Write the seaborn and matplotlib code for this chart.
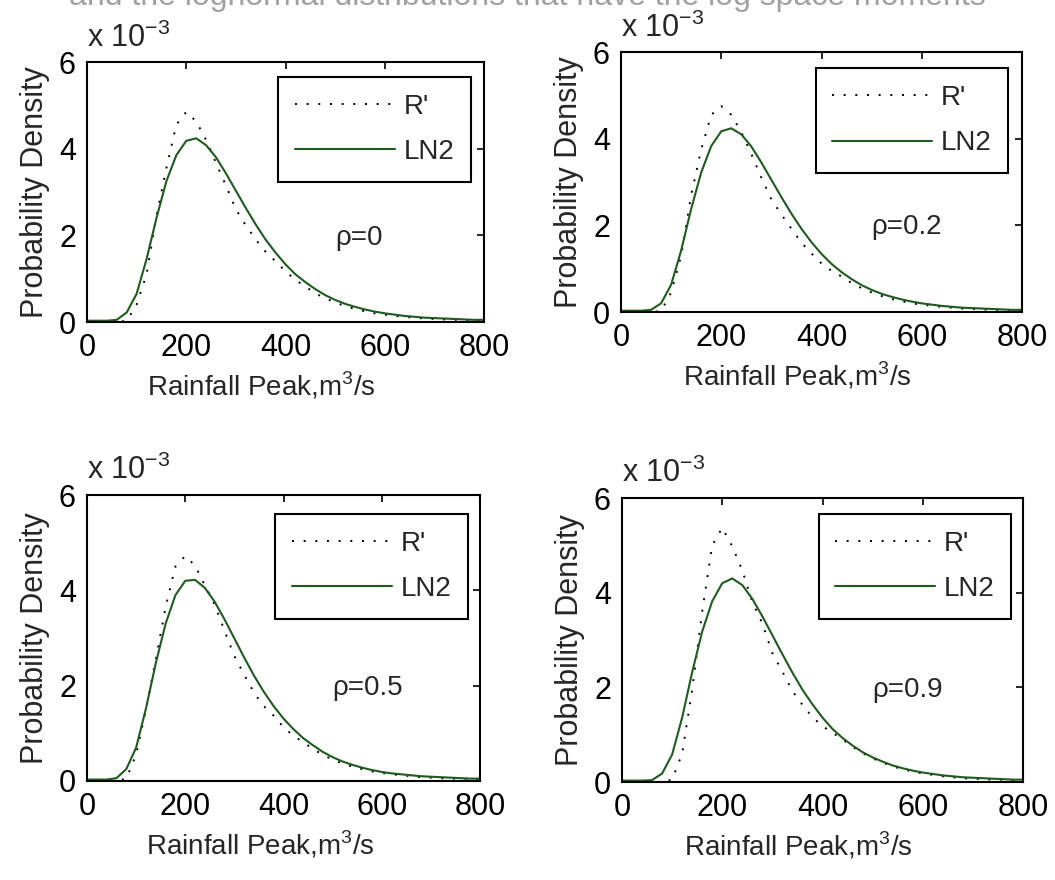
import matplotlib
matplotlib.use("Agg")
import matplotlib.pyplot as plt
import seaborn as sns

sns.set_style("white")
plt.rcParams['font.family'] = ['Liberation Sans', 'DejaVu Sans']

# ---- data (densities in units of 1e-3) ----
x_vals = [0, 20, 40, 60, 80, 100, 120, 140, 160, 180, 200, 220, 240, 260, 280, 300,
          320, 340, 360, 380, 400, 420, 440, 460, 480, 500, 520, 540, 560, 580, 600,
          620, 640, 660, 680, 700, 720, 740, 760, 780, 800]

rp_rho0 = [0, 0, 0, 0, 0.03, 0.40, 1.10, 2.45, 3.55, 4.55, 4.85, 4.63, 4.20, 3.67, 3.15, 2.60,
           2.23, 1.90, 1.62, 1.40, 1.17, 0.97, 0.82, 0.66, 0.55, 0.45, 0.37, 0.30, 0.25, 0.20, 0.17,
           0.14, 0.12, 0.10, 0.08, 0.07, 0.06, 0.05, 0.05, 0.04, 0.04]
rp_rho02 = [0, 0, 0, 0, 0.02, 0.45, 1.30, 2.70, 3.75, 4.55, 4.75, 4.55, 4.15, 3.65, 3.10, 2.60,
            2.25, 1.92, 1.60, 1.35, 1.12, 0.95, 0.82, 0.67, 0.55, 0.45, 0.37, 0.30, 0.25, 0.20, 0.17,
            0.14, 0.12, 0.10, 0.08, 0.07, 0.06, 0.05, 0.05, 0.04, 0.04]
rp_rho05 = [0, 0, 0, 0, 0.05, 0.55, 1.50, 2.55, 3.65, 4.50, 4.72, 4.52, 4.10, 3.70, 3.15, 2.62,
            2.23, 1.85, 1.57, 1.37, 1.13, 0.95, 0.82, 0.67, 0.55, 0.45, 0.37, 0.30, 0.25, 0.20, 0.17,
            0.14, 0.12, 0.10, 0.08, 0.07, 0.06, 0.05, 0.05, 0.04, 0.04]
rp_rho09 = [0, 0, 0, 0, 0, 0.05, 0.60, 1.95, 3.60, 5.00, 5.37, 4.98, 4.47, 3.80, 3.35, 2.72,
            2.33, 1.92, 1.63, 1.37, 1.18, 1.04, 0.90, 0.74, 0.61, 0.50, 0.41, 0.33, 0.27, 0.22, 0.18,
            0.15, 0.12, 0.10, 0.08, 0.07, 0.06, 0.05, 0.05, 0.04, 0.04]

ln2_rho0 = [0.03, 0.03, 0.03, 0.05, 0.22, 0.65, 1.45, 2.40, 3.25, 3.85, 4.18, 4.24, 4.08, 3.80, 3.43, 3.03,
            2.63, 2.25, 1.90, 1.60, 1.33, 1.10, 0.92, 0.76, 0.62, 0.51, 0.42, 0.35, 0.29, 0.24, 0.20,
            0.17, 0.14, 0.12, 0.10, 0.09, 0.08, 0.07, 0.06, 0.05, 0.05]
ln2_rho02 = [0.03, 0.03, 0.03, 0.05, 0.20, 0.63, 1.42, 2.38, 3.22, 3.83, 4.17, 4.24, 4.10, 3.82, 3.45, 3.05,
             2.65, 2.27, 1.92, 1.61, 1.34, 1.11, 0.92, 0.76, 0.62, 0.51, 0.42, 0.35, 0.29, 0.24, 0.20,
             0.17, 0.14, 0.12, 0.10, 0.09, 0.08, 0.07, 0.06, 0.05, 0.05]
ln2_rho05 = [0.03, 0.03, 0.03, 0.06, 0.25, 0.70, 1.52, 2.47, 3.30, 3.90, 4.20, 4.22, 4.05, 3.76, 3.39, 2.99,
             2.59, 2.21, 1.87, 1.57, 1.31, 1.09, 0.90, 0.75, 0.61, 0.50, 0.41, 0.34, 0.28, 0.23, 0.19,
             0.16, 0.14, 0.12, 0.10, 0.09, 0.08, 0.07, 0.06, 0.05, 0.05]
ln2_rho09 = [0.03, 0.03, 0.03, 0.04, 0.18, 0.58, 1.36, 2.32, 3.18, 3.82, 4.20, 4.30, 4.16, 3.87, 3.50, 3.10,
             2.70, 2.31, 1.95, 1.64, 1.36, 1.12, 0.93, 0.77, 0.63, 0.52, 0.43, 0.35, 0.29, 0.24, 0.20,
             0.17, 0.14, 0.12, 0.10, 0.09, 0.08, 0.07, 0.06, 0.05, 0.05]

rho_labels = ["ρ=0", "ρ=0.2", "ρ=0.5", "ρ=0.9"]
series_rp = [rp_rho0, rp_rho02, rp_rho05, rp_rho09]
series_ln2 = [ln2_rho0, ln2_rho02, ln2_rho05, ln2_rho09]
x_ticks = [0, 200, 400, 600, 800]
y_ticks = [0, 2, 4, 6]
x_label = "Rainfall Peak,m$^{\\mathregular{3}}$/s"
y_label = "Probability Density"
legend_names = ["R'", "LN2"]
title_text = "and the lognormal distributions that have the log space moments"

# ---- layout ----
W, H = 1055, 880
fig = plt.figure(figsize=(W / 100, H / 100), dpi=100)
fig.patch.set_facecolor("white")

# axes boxes in pixels: left, top, right, bottom
boxes = [(87, 62, 484, 322), (621, 52, 1022, 312), (87, 495, 480, 781), (622, 498, 1023, 782)]
leg_anchor = [(0.967, 0.942), (0.965, 0.938), (0.969, 0.934), (0.970, 0.944)]

fig.text(0.50, 1.0035, title_text, ha="center", va="center", fontsize=23, color="#a0a0a0")

green = "#1f5a1f"
for i, (l, t, r, b) in enumerate(boxes):
    ax = fig.add_axes([l / W, 1 - b / H, (r - l) / W, (b - t) / H])
    ax.set_facecolor("white")
    sns.lineplot(x=x_vals, y=series_rp[i], ax=ax, color="black", linewidth=1.4,
                 linestyle=(0, (1, 5)), label=legend_names[0])
    sns.lineplot(x=x_vals, y=series_ln2[i], ax=ax, color=green, linewidth=1.5,
                 label=legend_names[1])
    ax.set_xlim(0, 800)
    ax.set_ylim(0, 6)
    ax.set_xticks(x_ticks)
    ax.set_yticks(y_ticks)
    ax.set_xticklabels([str(v) for v in x_ticks])
    ax.set_yticklabels([str(v) for v in y_ticks])
    ax.tick_params(direction="in", length=5, width=1.2, top=True, right=True,
                   labelsize=22, colors="black")
    ax.tick_params(axis="x", pad=8)
    ax.tick_params(axis="y", pad=8)
    for s in ax.spines.values():
        s.set_visible(True)
        s.set_color("black")
        s.set_linewidth(1.5)
    ax.set_xlabel(x_label, fontsize=20)
    ax.xaxis.set_label_coords(0.44, -48.0 / (b - t))
    ax.set_ylabel(y_label, fontsize=22, labelpad=6)
    ax.text(0, 1.03, "x 10$^{\\mathregular{-3}}$", transform=ax.transAxes, ha="left",
            va="bottom", fontsize=22)
    ax.text(500, 1.95, rho_labels[i], ha="left", va="center", fontsize=20)
    leg = ax.legend(loc="upper right", bbox_to_anchor=leg_anchor[i], fontsize=20,
                    frameon=True, fancybox=False, framealpha=1, edgecolor="black",
                    handlelength=3.6, borderpad=0.6, labelspacing=0.7, borderaxespad=0,
                    handletextpad=0.3)
    leg.get_frame().set_linewidth(1.5)

fig.savefig("out.png", dpi=100, facecolor="white")
